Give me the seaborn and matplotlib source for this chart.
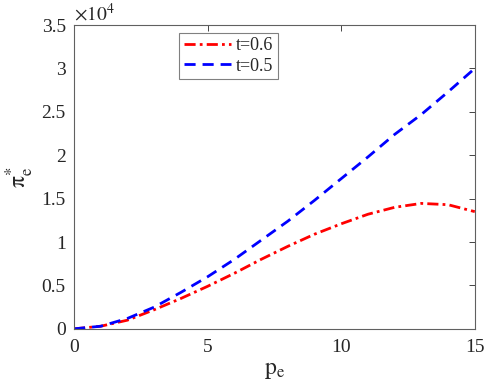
import seaborn as sns
import matplotlib.pyplot as plt
import pandas as pd
from matplotlib.ticker import FuncFormatter

# profit curves
pe = [0, 1, 2, 3, 4, 5, 6, 7, 8, 9, 10, 11, 12, 13, 14, 15]
profit_t06 = [0, 300, 1000, 2200, 3500, 4900, 6400, 8000, 9500, 10900,
              12100, 13200, 14000, 14450, 14300, 13500]
profit_t05 = [0, 300, 1200, 2500, 4200, 6000, 8000, 10200, 12400, 14800,
              17300, 19800, 22400, 24700, 27300, 30000]
labels = ['t=0.6', 't=0.5']
yticks = [0, 5000, 10000, 15000, 20000, 25000, 30000, 35000]
xticks = [0, 5, 10, 15]

df = pd.DataFrame({
    'pe': pe * 2,
    'profit': profit_t06 + profit_t05,
    'series': [labels[0]] * len(pe) + [labels[1]] * len(pe),
})

sns.set_theme(style='white')
plt.rcParams['font.family'] = ['Liberation Serif', 'DejaVu Serif']
plt.rcParams['mathtext.fontset'] = 'stix'

fig = plt.figure(figsize=(4.84, 3.91), dpi=100)
ax = fig.add_axes([0.153, 0.159, 0.828, 0.777])

sns.lineplot(data=df, x='pe', y='profit', hue='series', style='series',
             palette={'t=0.6': '#ff0000', 't=0.5': '#0000ff'},
             dashes={'t=0.6': (4, 1.5, 1, 1.5), 't=0.5': (4, 2.5)},
             linewidth=2, ax=ax)

ax.set_xlim(0, 15)
ax.set_ylim(0, 35000)
ax.set_xticks(xticks)
ax.set_yticks(yticks)
ax.yaxis.set_major_formatter(FuncFormatter(lambda v, p: f'{v / 1e4:g}'))
ax.tick_params(direction='in', length=4, width=0.6, colors='#262626',
               labelsize=14, top=True, right=True, pad=6)
ax.tick_params(axis='x', pad=7)
for spine in ax.spines.values():
    spine.set_color('#606060')
    spine.set_linewidth(0.8)

ax.text(0, 1.0, r'$\times\mathrm{10}^{4}$', transform=ax.transAxes,
        fontsize=14, ha='left', va='bottom')
ax.set_xlabel(r'$\mathrm{p_e}$', fontsize=17, labelpad=3)
ax.set_ylabel(r'$\mathrm{\pi}_{\mathrm{e}}^{*}$', fontsize=17, labelpad=4)

leg = ax.legend(title='', loc='upper left', bbox_to_anchor=(0.262, 0.975),
                frameon=True, fancybox=False, edgecolor='#606060',
                fontsize=13, handlelength=2.6, handletextpad=0.3,
                labelspacing=0.2, borderpad=0.25, borderaxespad=0)
leg.get_frame().set_linewidth(0.8)

fig.savefig('out.png', dpi=100)
